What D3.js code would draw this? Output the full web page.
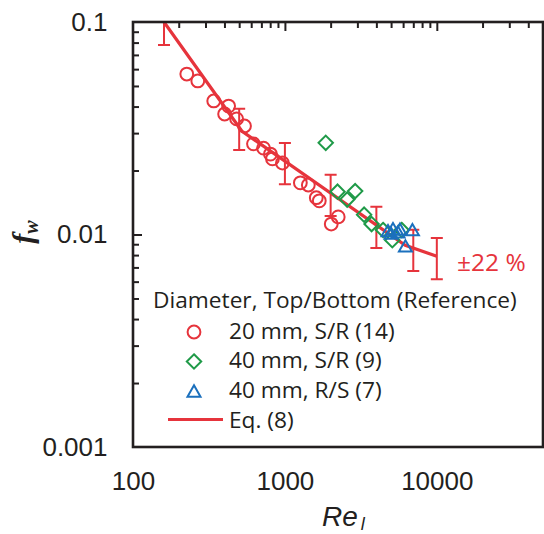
<!DOCTYPE html>
<html>
<head>
<meta charset="utf-8">
<script src="https://cdn.jsdelivr.net/npm/d3@7"></script>
<style>
  body { margin: 0; background: #fff; }
  svg { display: block; }
</style>
</head>
<body>
<svg id="chart" width="544" height="534"></svg>
<script>
// ---- data ----
// 20 mm, S/R
const circleRe = [226, 267, 340, 426, 401, 481, 542, 621, 723, 803, 828, 963, 1264, 1426, 1609, 1684, 2018, 2243];
const circleF  = [0.0569, 0.0528, 0.0425, 0.0402, 0.0369, 0.0350, 0.0324, 0.0267, 0.0255, 0.0239, 0.0227, 0.0217, 0.0175, 0.0171, 0.0149, 0.0144, 0.0112, 0.0121];
// 40 mm, S/R
const diamondRe = [1857, 2220, 2570, 2900, 3322, 3720, 4426, 5093, 5868];
const diamondF  = [0.0270, 0.0159, 0.0146, 0.0160, 0.0124, 0.0112, 0.0105, 0.0094, 0.0105];
// 40 mm, R/S
const triangleRe = [4772, 4992, 5146, 5550, 5718, 6213, 6908];
const triangleF  = [0.01044, 0.01016, 0.01067, 0.01028, 0.0106, 0.00883, 0.01055];
// Eq. (8): vertices of the correlation curve
const eqRe = [160, 520, 6200, 10000];
const eqF  = [0.100, 0.0307, 0.00889, 0.0079];
// ±22 % bands on Eq. (8)
const bandRe = [160, 500, 1000, 2000, 4000, 7000, 10000];
const bandF  = [0.100, 0.0320, 0.0221, 0.01565, 0.01107, 0.00864, 0.0079];
const bandFraction = 0.22;
// axis ticks
const xMajor = [100, 1000, 10000];
const xMinor = [200, 300, 400, 500, 600, 700, 800, 900, 2000, 3000, 4000, 5000, 6000, 7000, 8000, 9000, 20000, 30000, 40000];
const yMajor = [0.001, 0.01, 0.1];
const yMinor = [0.002, 0.003, 0.004, 0.005, 0.006, 0.007, 0.008, 0.009, 0.02, 0.03, 0.04, 0.05, 0.06, 0.07, 0.08, 0.09];
const legendTitle = "Diameter, Top/Bottom (Reference)";
const legendLabels = ["20 mm, S/R (14)", "40 mm, S/R (9)", "40 mm, R/S (7)", "Eq. (8)"];

// ---- layout ----
const RED = "#e6343c", GREEN = "#1f9a48", BLUE = "#1b70bd", INK = "#231f20";
const pL = 133, pR = 543, pT = 22, pB = 447;

const svg = d3.select("#chart");
const x = d3.scaleLog().domain([100, 50000]).range([pL, pR]);
const y = d3.scaleLog().domain([0.001, 0.1]).range([pB, pT]);

svg.append("defs").append("clipPath").attr("id", "plotclip")
  .append("rect").attr("x", pL).attr("y", pT)
  .attr("width", pR - pL).attr("height", pB - pT);

// ---- custom symbols ----
const diamondSym = {
  draw(ctx, size) {
    const r = Math.sqrt(size / 2);
    ctx.moveTo(0, -r); ctx.lineTo(r, 0); ctx.lineTo(0, r); ctx.lineTo(-r, 0); ctx.closePath();
  }
};
const triangleSym = {
  draw(ctx, size) {
    const s = Math.sqrt(size * 4 / Math.sqrt(3)); // side length
    const h = s * Math.sqrt(3) / 2;
    ctx.moveTo(0, -h / 2); ctx.lineTo(s / 2, h / 2); ctx.lineTo(-s / 2, h / 2); ctx.closePath();
  }
};
const symCircle = d3.symbol().type(d3.symbolCircle).size(Math.PI * 6.4 * 6.4);
const symDiamond = d3.symbol().type(diamondSym).size(2 * 7.2 * 7.2);
const symTriangle = d3.symbol().type(triangleSym).size(Math.sqrt(3) / 4 * 13 * 13);

// ---- ticks (inside the frame, left and top) ----
const tickStyle = g => {
  g.select(".domain").remove();
  g.selectAll("line").attr("stroke", INK).attr("stroke-width", 2);
};
svg.append("g").attr("transform", `translate(${pL},0)`)
  .call(d3.axisLeft(y).tickValues(yMinor).tickSize(-6).tickFormat(""))
  .call(tickStyle);
svg.append("g").attr("transform", `translate(${pL},0)`)
  .call(d3.axisLeft(y).tickValues([0.01]).tickSize(-9).tickFormat(""))
  .call(tickStyle);
svg.append("g").attr("transform", `translate(0,${pT})`)
  .call(d3.axisTop(x).tickValues(xMinor).tickSize(-6).tickFormat(""))
  .call(tickStyle);
svg.append("g").attr("transform", `translate(0,${pT})`)
  .call(d3.axisTop(x).tickValues([1000, 10000]).tickSize(-9).tickFormat(""))
  .call(tickStyle);

// ---- tick labels ----
const labelStyle = g => {
  g.select(".domain").remove();
  g.selectAll("line").remove();
  g.selectAll("text").attr("fill", INK)
    .style("font-family", "'Liberation Sans', Arial, sans-serif").style("font-size", "26px");
};
svg.append("g").attr("transform", `translate(0,${pB})`)
  .call(d3.axisBottom(x).tickValues(xMajor).tickSize(0).tickPadding(25).tickFormat(d3.format("d")))
  .call(labelStyle);
svg.append("g").attr("transform", `translate(${pL},0)`)
  .call(d3.axisLeft(y).tickValues(yMajor).tickSize(0).tickPadding(25.5).tickFormat(d => String(d)))
  .call(labelStyle);

// ---- plotted content ----
const plot = svg.append("g").attr("clip-path", "url(#plotclip)");

const eqLine = d3.line().x(d => x(d[0])).y(d => y(d[1]));
plot.append("path")
  .datum(eqRe.map((r, i) => [r, eqF[i]]))
  .attr("d", eqLine).attr("fill", "none")
  .attr("stroke", RED).attr("stroke-width", 3.2);

const bands = bandRe.map((r, i) => ({ r, lo: bandF[i] * (1 - bandFraction), hi: bandF[i] * (1 + bandFraction) }));
const capHalf = 6;
const bandG = plot.append("g").attr("stroke", RED).attr("stroke-width", 2).attr("fill", "none");
bandG.selectAll("path").data(bands).join("path")
  .attr("d", d => {
    const cx = x(d.r), y1 = y(d.hi), y2 = y(d.lo);
    return `M${cx},${y1}V${y2}M${cx - capHalf},${y1}H${cx + capHalf}M${cx - capHalf},${y2}H${cx + capHalf}`;
  });

const markerG = plot.append("g").attr("fill", "none").attr("stroke-width", 2);
markerG.append("g").attr("stroke", RED).selectAll("path")
  .data(circleRe.map((r, i) => [r, circleF[i]])).join("path")
  .attr("transform", d => `translate(${x(d[0])},${y(d[1])})`).attr("d", symCircle);
markerG.append("g").attr("stroke", GREEN).selectAll("path")
  .data(diamondRe.map((r, i) => [r, diamondF[i]])).join("path")
  .attr("transform", d => `translate(${x(d[0])},${y(d[1])})`).attr("d", symDiamond);
markerG.append("g").attr("stroke", BLUE).selectAll("path")
  .data(triangleRe.map((r, i) => [r, triangleF[i]])).join("path")
  .attr("transform", d => `translate(${x(d[0])},${y(d[1])})`).attr("d", symTriangle);

// band annotation
svg.append("text").attr("x", 457).attr("y", 271)
  .attr("fill", RED).style("font-family", "'Open Sans', sans-serif").style("font-size", "24.5px")
  .text("±22 %");

// ---- frame ----
svg.append("rect").attr("x", pL).attr("y", pT)
  .attr("width", pR - pL).attr("height", pB - pT)
  .attr("fill", "none").attr("stroke", INK).attr("stroke-width", 2.6);

// ---- legend ----
const legend = svg.append("g").style("font-family", "'Open Sans', sans-serif").style("font-size", "22.7px").attr("fill", INK);
legend.append("text").attr("x", 153).attr("y", 307.5).text(legendTitle);
const rowY = [338.5, 368, 397.5, 427.5];
const syms = [[symCircle, RED], [symDiamond, GREEN], [symTriangle, BLUE]];
syms.forEach(([s, c], i) => {
  legend.append("path").attr("transform", `translate(194,${rowY[i] - 6.5})`)
    .attr("d", s).attr("fill", "none").attr("stroke", c).attr("stroke-width", 2);
});
legend.append("line").attr("x1", 168).attr("x2", 223).attr("y1", rowY[3] - 8).attr("y2", rowY[3] - 8)
  .attr("stroke", RED).attr("stroke-width", 3.2);
legendLabels.forEach((t, i) => {
  legend.append("text").attr("x", 229).attr("y", rowY[i]).text(t);
});

// ---- axis titles ----
const xt = svg.append("text").attr("x", 322).attr("y", 526)
  .attr("fill", INK).style("font-family", "'Liberation Sans', Arial, sans-serif")
  .style("font-style", "italic").style("font-size", "28px");
xt.append("tspan").text("Re");
xt.append("tspan").attr("dx", 3).attr("dy", 3.5).style("font-size", "18px").text("l");

const yt = svg.append("text").attr("transform", "translate(33,232) rotate(-90)")
  .attr("text-anchor", "middle").attr("fill", INK)
  .style("font-family", "'Liberation Serif', 'Times New Roman', serif")
  .style("font-style", "italic").style("font-weight", "bold").style("font-size", "30px");
yt.append("tspan").text("f");
yt.append("tspan").attr("dy", 5).style("font-size", "20px").text("w");
</script>
</body>
</html>
